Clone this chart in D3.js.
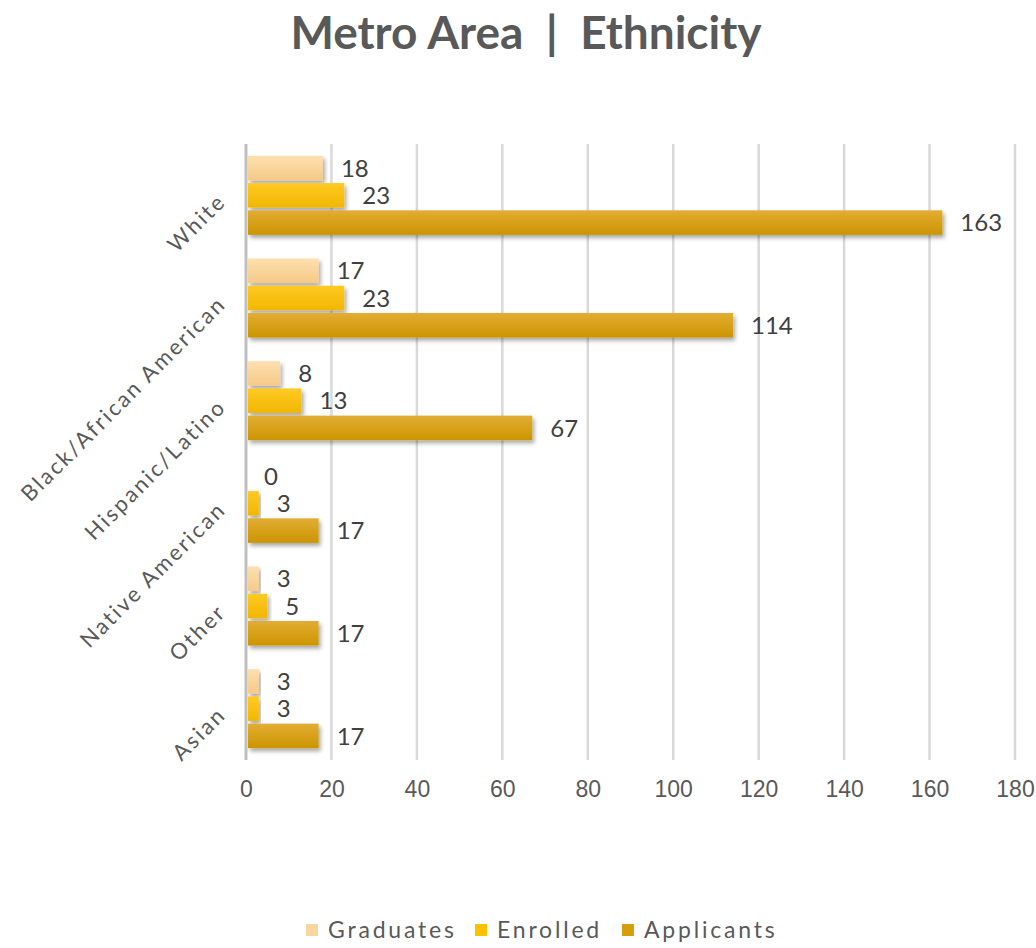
<!DOCTYPE html>
<html>
<head>
<meta charset="utf-8">
<script src="https://cdnjs.cloudflare.com/ajax/libs/d3/7.8.5/d3.min.js"></script>
<style>
  body { margin: 0; background: #fff; }
  svg { font-family: Lato, 'Open Sans', sans-serif; }
</style>
</head>
<body>
<div class="container"></div>
<script>
const categories = ['White', 'Black/African American', 'Hispanic/Latino', 'Native American', 'Other', 'Asian'];
const graduates = [18, 17, 8, 0, 3, 3];
const enrolled = [23, 23, 13, 3, 5, 3];
const applicants = [163, 114, 67, 17, 17, 17];
const seriesNames = ['Graduates', 'Enrolled', 'Applicants'];
const xTicks = [0, 20, 40, 60, 80, 100, 120, 140, 160, 180];

const width = 1036;
const height = 948;
const padding = { top: 144, right: 21, bottom: 188, left: 246 };

// colour pairs: top and bottom of each bar gradient
const colors = {
  Graduates: ['#fde0b0', '#f6c987'],
  Enrolled: ['#ffca24', '#f2b600'],
  Applicants: ['#e2ad34', '#cc9500']
};
const legendColors = ['#f9d6a0', '#ffc000', '#d49e0c'];

const rows = categories.map((c, i) => ({
  category: c,
  Graduates: graduates[i],
  Enrolled: enrolled[i],
  Applicants: applicants[i]
}));

const svg = d3.select('.container')
  .append('svg')
  .attr('width', width)
  .attr('height', height);

const defs = svg.append('defs');
seriesNames.forEach(s => {
  const g = defs.append('linearGradient')
    .attr('id', 'grad-' + s)
    .attr('x1', 0).attr('y1', 0).attr('x2', 0).attr('y2', 1);
  g.append('stop').attr('offset', '0%').attr('stop-color', colors[s][0]);
  g.append('stop').attr('offset', '100%').attr('stop-color', colors[s][1]);
});
defs.append('filter')
  .attr('id', 'shadow')
  .attr('x', '-10%').attr('y', '-30%').attr('width', '130%').attr('height', '190%')
  .append('feDropShadow')
  .attr('dx', 2).attr('dy', 3)
  .attr('stdDeviation', 2)
  .attr('flood-color', '#000')
  .attr('flood-opacity', 0.35);

// Scales
const xScale = d3.scaleLinear()
  .domain([0, 180])
  .range([padding.left, width - padding.right]);

const yScale = d3.scaleBand()
  .domain(categories)
  .range([padding.top, height - padding.bottom])
  .paddingInner(0.23)
  .paddingOuter(0.115);

const ySub = d3.scaleBand()
  .domain(seriesNames)
  .range([0, yScale.bandwidth()])
  .paddingInner(0.1);

// Gridlines
svg.append('g')
  .attr('class', 'grid')
  .selectAll('line')
  .data(xTicks.slice(1))
  .enter()
  .append('line')
  .attr('x1', d => xScale(d))
  .attr('x2', d => xScale(d))
  .attr('y1', padding.top)
  .attr('y2', height - padding.bottom)
  .attr('stroke', '#d9d9d9')
  .attr('stroke-width', 2.5);

// x axis (labels only)
const xAxis = svg.append('g')
  .attr('id', 'x-axis')
  .attr('transform', `translate(0, ${height - padding.bottom})`)
  .call(d3.axisBottom(xScale).tickValues(xTicks).tickSize(0).tickPadding(21));
xAxis.select('.domain').remove();
xAxis.selectAll('text')
  .attr('fill', '#595959')
  .style('font-size', '23px');

// Bars
const groups = svg.append('g')
  .selectAll('g')
  .data(rows)
  .enter()
  .append('g')
  .attr('transform', d => `translate(0, ${yScale(d.category)})`);

const cells = groups.selectAll('g')
  .data(d => seriesNames.map(s => ({ key: s, value: d[s] })))
  .enter()
  .append('g');

cells.append('rect')
  .attr('x', xScale(0) + 2)
  .attr('y', d => ySub(d.key))
  .attr('width', d => Math.max(0, xScale(d.value) - xScale(0) - 2))
  .attr('height', ySub.bandwidth())
  .attr('fill', d => `url(#grad-${d.key})`)
  .attr('filter', 'url(#shadow)');

cells.append('text')
  .attr('x', d => xScale(d.value) + 18)
  .attr('y', d => ySub(d.key) + ySub.bandwidth() / 2)
  .attr('dy', '0.36em')
  .attr('fill', '#404040')
  .style('font-size', '24px')
  .text(d => d.value);

// y axis line
svg.append('line')
  .attr('x1', xScale(0)).attr('x2', xScale(0))
  .attr('y1', padding.top).attr('y2', height - padding.bottom)
  .attr('stroke', '#bfbfbf')
  .attr('stroke-width', 3);

// Category labels, rotated
svg.append('g')
  .selectAll('text')
  .data(categories)
  .enter()
  .append('text')
  .attr('transform', d => `translate(${xScale(0) - 24}, ${yScale(d) + yScale.bandwidth() / 2 + 2}) rotate(-45)`)
  .attr('text-anchor', 'end')
  .attr('dy', '0.35em')
  .attr('fill', '#595959')
  .style('font-size', '22px')
  .style('letter-spacing', '2.4px')
  .text(d => d);

// Title
svg.append('text')
  .attr('x', 526)
  .attr('y', 49)
  .attr('text-anchor', 'middle')
  .attr('fill', '#595959')
  .style('font-size', '46px')
  .style('font-weight', 'bold')
  .style('white-space', 'pre')
  .text('Metro Area  |  Ethnicity');

// Legend
const legendX = [306, 475, 622];
const legend = svg.append('g').attr('id', 'legend');
const items = legend.selectAll('g')
  .data(seriesNames)
  .enter()
  .append('g')
  .attr('transform', (d, i) => `translate(${legendX[i]}, 930)`);
items.append('rect')
  .attr('x', 0).attr('y', -6)
  .attr('width', 12).attr('height', 12)
  .attr('fill', (d, i) => legendColors[i]);
items.append('text')
  .attr('x', 22)
  .attr('dy', '0.36em')
  .attr('fill', '#595959')
  .style('font-size', '23px')
  .style('letter-spacing', '2.8px')
  .text(d => d);
</script>
</body>
</html>
